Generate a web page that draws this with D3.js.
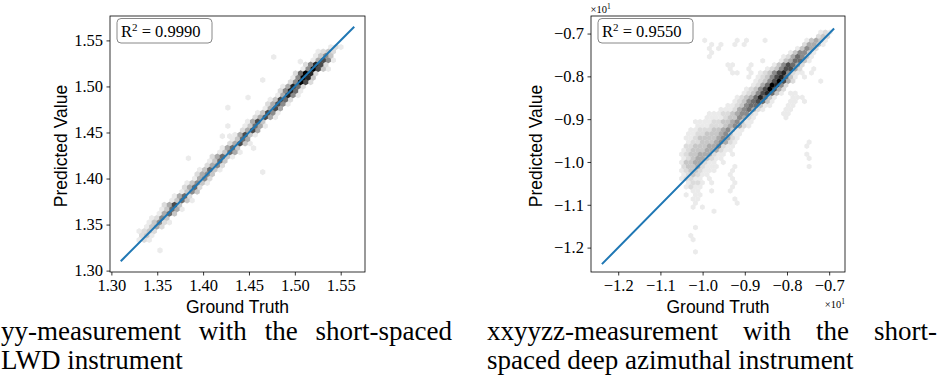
<!DOCTYPE html>
<html>
<head>
<meta charset="utf-8">
<script src="https://cdn.jsdelivr.net/npm/d3@7"></script>
<style>
  body { margin: 0; background: #fff; }
  .tick text { font-family: "Liberation Serif", serif; font-size: 16.5px; fill: #000; }
  .lab { font-family: "Liberation Sans", sans-serif; font-size: 17.5px; fill: #000; }
  .cap { font-family: "Liberation Serif", serif; font-size: 27px; fill: #000; }
</style>
</head>
<body>
<svg id="chart" width="940" height="380"></svg>
<script>
// ---- data ----
const leftTicks = [1.30, 1.35, 1.40, 1.45, 1.50, 1.55];
const rightTicks = [-1.2, -1.1, -1.0, -0.9, -0.8, -0.7];
const r2Values = ['0.9990', '0.9550'];
const leftFit = [1.311, 1.564];
const rightFit = [-1.237, -0.690];

// hexbin cells, one entry per run: [row, firstCol, shade level per cell (0 = empty)]
const leftHexRows = [
  [7, 4, 0,1,2,1], [8, 5, 0,2,3,1], [9, 5, 1,2,3,2], [10, 7, 1,3,4,2],
  [11, 7, 1,3,5,2,1], [12, 8, 1,2,5,3], [13, 9, 1,4,6,3], [14, 10, 1,3,6,4,1],
  [15, 10, 2,4,7,3], [16, 12, 1,3,6,3,1], [17, 12, 1,4,6,2], [18, 14, 1,3,5,3],
  [19, 14, 2,4,6,2], [20, 15, 1,3,5,3,1], [21, 16, 1,4,5,2], [22, 17, 2,4,5,3],
  [23, 17, 1,3,6,3,1], [24, 19, 2,4,5,2], [25, 19, 1,3,6,3], [26, 20, 2,4,6,3,1],
  [27, 21, 1,3,6,4,1], [28, 22, 1,4,6,3], [29, 23, 2,4,7,3,1], [30, 24, 1,3,6,4],
  [31, 24, 1,4,7,3,1], [32, 26, 2,4,7,4], [33, 26, 1,3,6,4,1], [34, 27, 1,4,7,3],
  [35, 28, 2,4,7,4,1], [36, 29, 1,3,7,5,1], [37, 30, 1,4,7,4], [38, 31, 2,4,7,5,1],
  [39, 31, 1,3,7,6,2], [40, 33, 1,4,8,5,1], [41, 33, 2,5,8,6,1], [42, 34, 1,4,8,6,2],
  [43, 35, 2,5,9,7,2], [44, 36, 1,5,9,8,3], [45, 36, 2,6,9,8,2], [46, 38, 1,5,9,7,3,1],
  [47, 38, 2,5,8,7,2], [48, 40, 1,4,7,5,1], [49, 40, 1,3,5,3], [50, 41, 1,2,3,2],
  [51, 42, 0,1,2,1]
];
// isolated light cells in the left panel [truth, predicted]
const leftStray = [
  [1.384, 1.422], [1.353, 1.322], [1.427, 1.477], [1.427, 1.457], [1.449, 1.488],
  [1.465, 1.507], [1.477, 1.532], [1.465, 1.407], [1.455, 1.433], [1.429, 1.446],
  [1.421, 1.446], [1.506, 1.527]
];

const rightHexRows = [
  [0, 3, 1], [3, 2, 1], [4, 2, 1], [6, 3, 1], [10, 7, 1],
  [11, 2, 1,0,1], [12, 3, 1], [12, 12, 1], [13, 2, 1,1], [13, 11, 1],
  [14, 1, 1,0,1,1], [15, 2, 1,1,0,0,1], [15, 10, 1], [16, 1, 1,2,1,1], [16, 11, 1],
  [17, 1, 1,2,2,1,0,1], [17, 11, 1],
  [18, 0, 1,2,2,1,1,0,1], [18, 11, 1],
  [19, 0, 1,2,3,2,1,1], [19, 10, 1],
  [20, 0, 1,2,3,3,2,1,1,1], [20, 11, 1],
  [21, 0, 2,3,3,4,2,1,1,1], [21, 11, 1], [21, 27, 1],
  [22, 0, 1,3,3,4,4,2,1,1,0,1],
  [23, 0, 1,2,3,4,4,3,2,1,1], [23, 27, 1],
  [24, 0, 1,2,3,3,4,4,4,2,1,1,0,1], [24, 27, 1],
  [25, 0, 1,2,3,3,3,4,4,4,2,1,1],
  [26, 1, 2,2,3,3,3,4,4,5,2,1,1], [26, 27, 1],
  [27, 1, 1,2,2,3,3,3,4,5,4,2,1], [27, 27, 1],
  [28, 1, 1,1,2,3,3,3,3,4,5,4,2,1],
  [29, 1, 1,1,2,2,3,3,3,4,5,3,1,1],
  [30, 2, 1,1,2,2,2,3,3,4,5,3,1,1],
  [31, 3, 1,1,1,2,2,2,3,4,5,4,2,1],
  [32, 3, 1,1,1,1,2,2,3,3,4,5,3,1,1],
  [33, 5, 1,1,1,1,2,3,3,5,4,2,1], [33, 22, 1],
  [34, 6, 1,1,1,2,2,3,4,5,5,2,1], [34, 22, 1,1],
  [35, 8, 1,1,1,2,4,5,6,4,2,1], [35, 22, 1,1],
  [36, 10, 1,1,2,3,5,6,6,3,1,1], [36, 23, 1,1],
  [37, 11, 1,2,3,5,6,7,6,3,1], [37, 23, 1,1,0,1],
  [38, 12, 1,2,3,4,6,8,6,3,1], [38, 24, 1,1,1],
  [39, 13, 1,2,3,5,7,8,6,3,1], [39, 23, 1,1],
  [40, 14, 1,2,3,5,7,9,7,4,2],
  [41, 15, 1,2,4,6,9,8,5,2],
  [42, 16, 1,2,3,5,7,9,7,4,2], [42, 30, 1],
  [43, 14, 1,0,1,2,3,5,7,8,6,3,1], [43, 26, 1],
  [44, 11, 1,1,0,0,1,0,1,2,3,5,7,8,5,2,1], [44, 26, 1,0,1],
  [45, 10, 1,0,0,0,1,0,0,0,1,2,3,5,7,7,4,2], [45, 28, 1],
  [46, 10, 1,1,0,0,0,1,0,0,0,0,1,3,5,7,6,4,2],
  [47, 17, 1,0,0,0,1,3,4,6,6,3,1],
  [48, 6, 1], [48, 22, 1,2,4,6,5,3,1],
  [49, 6, 1], [49, 23, 1,3,5,5,3,1],
  [50, 6, 1,0,1], [50, 25, 1,3,5,4,2],
  [51, 6, 1,0,1,0,0,1,0,1], [51, 26, 2,4,4,3,1],
  [52, 5, 1], [52, 12, 1], [52, 14, 1], [52, 18, 1], [52, 27, 1,3,4,3,1],
  [53, 29, 2,3,2],
  [54, 30, 1,2,1]
];

const captionLeft = ['yy-measurement with the short-spaced', 'LWD instrument'];
const captionRight = ['xxyyzz-measurement with the short-', 'spaced deep azimuthal instrument'];

// ---- layout ----
const svg = d3.select('#chart');
// shade level 1..9 -> grey
const shade = lv => d3.interpolateGreys(0.15 + 0.85 * Math.pow((lv - 1) / 8, 1.12));

const panels = [
  { left: 110, top: 16, w: 255, h: 256, xd: [1.2985, 1.5765], yd: [1.2985, 1.5765],
    ticks: leftTicks, fmt: d3.format('.2f'), grid: { x0: 1.300, y0: 1.300, sx: 0.0055, sy: 0.00476 },
    rows: leftHexRows, stray: leftStray, fit: leftFit, r2: r2Values[0], labX: 66.5, sci: false },
  { left: 591, top: 16, w: 254, h: 256, xd: [-1.2645, -0.6625], yd: [-1.257, -0.659],
    ticks: rightTicks, fmt: d3.format('.1f'), grid: { x0: -1.05, y0: -1.21, sx: 0.011, sy: 0.0095 },
    rows: rightHexRows, stray: [], fit: rightFit, r2: r2Values[1], labX: 542, sci: true }
];

function hexPoints(cx, cy, r) {
  return d3.range(6).map(i => {
    const a = Math.PI / 6 + i * Math.PI / 3;
    return [cx + r * Math.cos(a), cy + r * Math.sin(a)];
  });
}

panels.forEach(p => {
  const x = d3.scaleLinear().domain(p.xd).range([p.left, p.left + p.w]);
  const y = d3.scaleLinear().domain(p.yd).range([p.top + p.h, p.top]);
  const g = svg.append('g');
  const r = (x(p.grid.x0 + p.grid.sx) - x(p.grid.x0)) / Math.sqrt(3) + 0.15;

  // hex cells
  const cells = [];
  p.rows.forEach(row => {
    const [j, c0, ...levels] = row;
    levels.forEach((lv, k) => {
      if (!lv) return;
      const col = c0 + k + (Math.abs(j) % 2) * 0.5;
      cells.push({ x: p.grid.x0 + col * p.grid.sx, y: p.grid.y0 + j * p.grid.sy, lv });
    });
  });
  p.stray.forEach(d => cells.push({ x: d[0], y: d[1], lv: 1 }));
  cells.sort((a, b) => a.lv - b.lv);

  g.selectAll('path.hex').data(cells).enter().append('path')
    .attr('class', 'hex')
    .attr('d', d => d3.line()(hexPoints(x(d.x), y(d.y), r)) + 'Z')
    .attr('fill', d => shade(d.lv));

  // fit line
  g.append('line')
    .attr('x1', x(p.fit[0])).attr('y1', y(p.fit[0]))
    .attr('x2', x(p.fit[1])).attr('y2', y(p.fit[1]))
    .attr('stroke', '#1f77b4').attr('stroke-width', 2).attr('stroke-linecap', 'square');

  // axes
  const ax = g.append('g').attr('transform', `translate(0,${p.top + p.h})`)
    .call(d3.axisBottom(x).tickValues(p.ticks).tickFormat(p.fmt).tickSize(3.5).tickPadding(4));
  const ay = g.append('g').attr('transform', `translate(${p.left},0)`)
    .call(d3.axisLeft(y).tickValues(p.ticks).tickFormat(p.fmt).tickSize(3.5).tickPadding(3.5));
  [ax, ay].forEach(a => {
    a.select('.domain').remove();
    a.selectAll('line').attr('stroke', '#000').attr('stroke-width', 0.8);
    a.attr('font-family', null).attr('font-size', null);
  });

  g.append('rect')
    .attr('x', p.left).attr('y', p.top).attr('width', p.w).attr('height', p.h)
    .attr('fill', 'none').attr('stroke', '#000').attr('stroke-width', 0.8);

  // axis labels
  g.append('text').attr('class', 'lab')
    .attr('x', p.left + p.w / 2).attr('y', 312.5).attr('text-anchor', 'middle')
    .text('Ground Truth');
  g.append('text').attr('class', 'lab')
    .attr('transform', `translate(${p.labX},${p.top + p.h / 2 + 2}) rotate(-90)`)
    .attr('text-anchor', 'middle')
    .text('Predicted Value');

  // R^2 box
  g.append('rect')
    .attr('x', p.left + 7).attr('y', p.top + 2.5).attr('width', 95).attr('height', 24.5)
    .attr('rx', 4).attr('fill', '#fff').attr('fill-opacity', 0.8)
    .attr('stroke', '#888').attr('stroke-width', 1);
  const rt = g.append('text')
    .attr('x', p.left + 11).attr('y', p.top + 20.5)
    .attr('font-family', '"Liberation Serif", serif').attr('font-size', 16.5);
  rt.append('tspan').text('R');
  rt.append('tspan').attr('font-size', 11).attr('dy', -6).text('2');
  rt.append('tspan').attr('dy', 6).text(' = ' + p.r2);

  // offset labels (x10^1)
  if (p.sci) {
    const mk = (tx, ty, anchor) => {
      const t = g.append('text').attr('x', tx).attr('y', ty).attr('text-anchor', anchor)
        .attr('font-family', '"Liberation Serif", serif').attr('font-size', 10.5);
      t.append('tspan').text('\u00d710');
      t.append('tspan').attr('font-size', 7.5).attr('dy', -4).text('1');
    };
    mk(p.left - 0.5, 13, 'start');
    mk(p.left + p.w, 308, 'end');
  }
});

// ---- captions ----
function justified(text, x0, x1, yb) {
  const words = text.split(' ');
  const nodes = words.map(w => svg.append('text').attr('class', 'cap').attr('y', yb).text(w));
  const widths = nodes.map(n => n.node().getComputedTextLength());
  const gap = (x1 - x0 - d3.sum(widths)) / (words.length - 1);
  let cx = x0;
  nodes.forEach((n, i) => { n.attr('x', cx); cx += widths[i] + gap; });
}
function plain(text, x0, yb) {
  svg.append('text').attr('class', 'cap').attr('x', x0).attr('y', yb).text(text);
}
justified(captionLeft[0], 1, 452, 340);
plain(captionLeft[1], 1, 369);
justified(captionRight[0], 487, 937, 340);
plain(captionRight[1], 487, 369);
</script>
</body>
</html>
